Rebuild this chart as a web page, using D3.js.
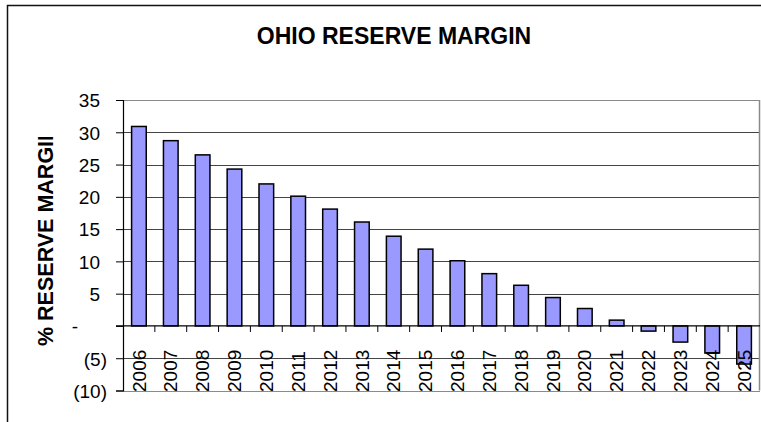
<!DOCTYPE html>
<html>
<head>
<meta charset="utf-8">
<script src="https://cdn.jsdelivr.net/npm/d3@7"></script>
<style>
  html, body { margin: 0; padding: 0; background: #fff; }
  svg { display: block; font-family: Arial, "Liberation Sans", sans-serif; }
</style>
</head>
<body>
<svg id="chart" width="761" height="422"></svg>
<script>
const title = "OHIO RESERVE MARGIN";
const yTitle = "% RESERVE MARGIN";
const years = ["2006","2007","2008","2009","2010","2011","2012","2013","2014","2015",
               "2016","2017","2018","2019","2020","2021","2022","2023","2024","2025"];
const margins = [30.9, 28.7, 26.5, 24.3, 22.0, 20.1, 18.1, 16.1, 13.9, 11.9,
                 10.1, 8.1, 6.3, 4.4, 2.7, 0.9, -0.8, -2.5, -4.2, -5.9];
const yTicks = [-10, -5, 0, 5, 10, 15, 20, 25, 30, 35];
const yDomain = [-10, 35];

const svg = d3.select("#chart");
const L = 123, R = 760, T = 100, B = 390.5;

const x = d3.scaleBand().domain(years).range([L, R]).paddingInner(0.54).paddingOuter(0.27);
const y = d3.scaleLinear().domain(yDomain).range([B, T]);
const step = x.step();

// outer chart border
svg.append("path").attr("d", `M7.5,430 V5.5 H770`).attr("fill", "none")
  .attr("stroke", "#111").attr("stroke-width", 1.5);

// title
svg.append("text").attr("x", 394).attr("y", 44).attr("text-anchor", "middle")
  .attr("font-size", 23).attr("font-weight", "bold").text(title);

// y title with clip
svg.append("clipPath").attr("id", "ytclip").append("rect")
  .attr("x", 0).attr("y", 137).attr("width", 100).attr("height", 300);
svg.append("g").attr("clip-path", "url(#ytclip)")
  .append("text")
  .attr("transform", "translate(53,346) rotate(-90)")
  .attr("font-size", 21.5).attr("font-weight", "bold").text(yTitle);

// gridlines
svg.append("g").selectAll("line").data(yTicks.filter(d => d !== 0)).join("line")
  .attr("x1", L).attr("x2", R).attr("y1", d => Math.round(y(d)) + 0.5).attr("y2", d => Math.round(y(d)) + 0.5)
  .attr("stroke", d => (d === 35 || d === -10) ? "#8a8a8a" : "#444").attr("stroke-width", 1);

// right border
svg.append("line").attr("x1", R - 0.5).attr("x2", R - 0.5).attr("y1", T).attr("y2", B)
  .attr("stroke", "#8a8a8a").attr("stroke-width", 1.5);

// y axis
const fmt = d => d === 0 ? "-" : d < 0 ? `(${-d})` : `${d}`;
const yAxis = svg.append("g").attr("transform", `translate(${L},0)`)
  .call(d3.axisLeft(y).tickValues(yTicks).tickFormat(fmt).tickSize(7).tickPadding(0));
yAxis.select(".domain").attr("stroke", "#000").attr("stroke-width", 1.2);
yAxis.selectAll(".tick line").attr("stroke", "#000");
yAxis.selectAll(".tick text")
  .attr("font-size", 19).attr("font-family", "Arial, 'Liberation Sans', sans-serif").attr("fill", "#000")
  .attr("x", d => d === 0 ? -45 : d < 0 ? -16 : -23)
  .attr("dy", "0.36em");

// bars
svg.append("g").selectAll("rect").data(years).join("rect")
  .attr("x", d => x(d))
  .attr("width", x.bandwidth())
  .attr("y", (d, i) => y(Math.max(0, margins[i])))
  .attr("height", (d, i) => Math.abs(y(margins[i]) - y(0)))
  .attr("fill", "#9999FF").attr("stroke", "#000").attr("stroke-width", 1.5);

// zero axis line
svg.append("line").attr("x1", L - 7).attr("x2", R).attr("y1", y(0)).attr("y2", y(0))
  .attr("stroke", "#000").attr("stroke-width", 1.2);

// x ticks at category boundaries
svg.append("g").selectAll("line").data(years.slice(1)).join("line")
  .attr("x1", d => x(d) - step * 0.27).attr("x2", d => x(d) - step * 0.27)
  .attr("y1", y(0)).attr("y2", y(0) + 6)
  .attr("stroke", "#000").attr("stroke-width", 1);

// x labels
svg.append("g").selectAll("text").data(years).join("text")
  .attr("transform", d => `translate(${x(d) + x.bandwidth() / 2},392) rotate(-90)`)
  .attr("dy", "0.35em").attr("font-size", 19).attr("text-anchor", "start")
  .text(d => d);
</script>
</body>
</html>
